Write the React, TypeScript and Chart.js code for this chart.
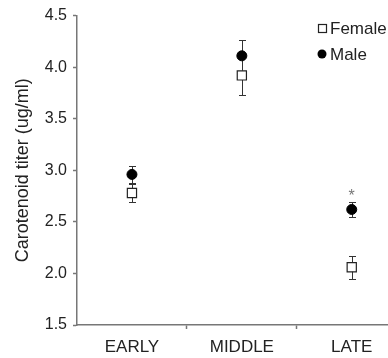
import React, { useEffect, useRef } from 'react';
import { Chart, registerables } from 'chart.js';

Chart.register(...registerables);

const categories = ['EARLY', 'MIDDLE', 'LATE'];
const femaleMean = [2.78, 3.92, 2.06];
const femaleErr = [0.09, 0.19, 0.11];
const maleMean = [2.96, 4.11, 2.62];
const maleErr = [0.08, 0.15, 0.075];
const maleSig = ['', '', '*'];
const yTicks = [1.5, 2.0, 2.5, 3.0, 3.5, 4.0, 4.5];
const seriesNames = ['Female', 'Male'];
const yTitle = 'Carotenoid titer (ug/ml)';

const FONT = "'Liberation Sans', Arial, Helvetica, sans-serif";
const AXIS = '#777';
const INK = '#222';

const errorBarPlugin = {
  id: 'errorBars',
  beforeDatasetsDraw(chart: any) {
    const { ctx } = chart;
    const x = chart.scales.x;
    const y = chart.scales.y;
    ctx.save();
    ctx.strokeStyle = '#333';
    ctx.lineWidth = 1;
    const groups: [number[], number[]][] = [
      [femaleMean, femaleErr],
      [maleMean, maleErr],
    ];
    groups.forEach(([m, e]) => {
      m.forEach((v, i) => {
        const px = Math.round(x.getPixelForValue(i)) + 0.5;
        const top = Math.round(y.getPixelForValue(v + e[i])) + 0.5;
        const bot = Math.round(y.getPixelForValue(v - e[i])) + 0.5;
        ctx.beginPath();
        ctx.moveTo(px, top);
        ctx.lineTo(px, bot);
        ctx.moveTo(px - 3.5, top);
        ctx.lineTo(px + 3.5, top);
        ctx.moveTo(px - 3.5, bot);
        ctx.lineTo(px + 3.5, bot);
        ctx.stroke();
      });
    });
    ctx.fillStyle = '#777';
    ctx.font = `16px ${FONT}`;
    ctx.textAlign = 'center';
    ctx.textBaseline = 'middle';
    maleSig.forEach((s, i) => {
      if (!s) return;
      const px = x.getPixelForValue(i);
      const top = y.getPixelForValue(maleMean[i] + maleErr[i]);
      ctx.fillText(s, px, top - 5);
    });
    ctx.restore();
  },
};

const legendPlugin = {
  id: 'customLegend',
  afterDraw(chart: any) {
    const { ctx } = chart;
    ctx.save();
    ctx.font = `17px ${FONT}`;
    ctx.fillStyle = INK;
    ctx.textAlign = 'left';
    ctx.textBaseline = 'middle';
    const rows = [28, 54];
    seriesNames.forEach((name, i) => {
      const cy = rows[i];
      if (i === 0) {
        ctx.fillStyle = '#fff';
        ctx.fillRect(318, cy - 4, 8, 8);
        ctx.strokeStyle = INK;
        ctx.lineWidth = 1.2;
        ctx.strokeRect(318.5, cy - 3.5, 8, 8);
      } else {
        ctx.fillStyle = '#000';
        ctx.beginPath();
        ctx.arc(322, cy, 4.5, 0, Math.PI * 2);
        ctx.fill();
      }
      ctx.fillStyle = INK;
      ctx.fillText(name, 330, cy + 1);
    });
    ctx.restore();
  },
};

export default function App() {
  const ref = useRef<HTMLCanvasElement>(null);

  useEffect(() => {
    if (!ref.current) return;
    Chart.defaults.font.family = FONT;
    const chart = new Chart(ref.current, {
      type: 'scatter',
      data: {
        datasets: [
          {
            label: seriesNames[0],
            data: categories.map((_, i) => ({ x: i, y: femaleMean[i] })),
            pointStyle: 'rect',
            pointRadius: 6.5,
            backgroundColor: '#fff',
            borderColor: INK,
            borderWidth: 1.2,
          },
          {
            label: seriesNames[1],
            data: categories.map((_, i) => ({ x: i, y: maleMean[i] })),
            pointStyle: 'circle',
            pointRadius: 5,
            backgroundColor: '#000',
            borderColor: '#000',
            borderWidth: 1,
          },
        ],
      },
      options: {
        animation: false,
        responsive: false,
        layout: { autoPadding: false, padding: { top: 15, right: 0, left: 0, bottom: 0 } },
        plugins: { legend: { display: false }, tooltip: { enabled: false } },
        scales: {
          x: {
            type: 'linear',
            min: -0.5,
            max: 2.33,
            afterBuildTicks: (s: any) => {
              s.ticks = [0, 0.5, 1, 1.5, 2].map((v) => ({ value: v }));
            },
            afterFit: (s: any) => {
              s.height = 33;
              s.paddingRight = 0;
              s.paddingLeft = 0;
            },
            ticks: {
              autoSkip: false,
              maxRotation: 0,
              padding: 8,
              color: INK,
              font: { size: 17, family: FONT },
              callback: (v: any) => (Number.isInteger(v) ? categories[v] : ''),
            },
            grid: {
              drawOnChartArea: false,
              tickLength: 4,
              tickWidth: 1.5,
              tickColor: (c: any) =>
                c.tick && Number.isInteger(c.tick.value) ? 'rgba(0,0,0,0)' : AXIS,
            },
            border: { color: AXIS, width: 1.5 },
          },
          y: {
            type: 'linear',
            min: 1.5,
            max: 4.5,
            afterBuildTicks: (s: any) => {
              s.ticks = yTicks.map((v) => ({ value: v }));
            },
            afterFit: (s: any) => {
              s.width = 77;
            },
            ticks: {
              padding: 6,
              color: INK,
              font: { size: 16, family: FONT },
              callback: (v: any) => Number(v).toFixed(1),
            },
            grid: { drawOnChartArea: false, tickLength: 4, tickWidth: 1.5, tickColor: AXIS },
            border: { color: AXIS, width: 1.5 },
            title: {
              display: true,
              text: yTitle,
              color: INK,
              font: { size: 18, family: FONT },
              padding: { top: 12, bottom: 0 },
            },
          },
        },
      },
      plugins: [errorBarPlugin, legendPlugin],
    });
    return () => chart.destroy();
  }, []);

  return (
    <div style={{ position: 'absolute', left: 0, top: 0, width: 388, height: 358, background: '#fff' }}>
      <canvas ref={ref} width={388} height={358} style={{ display: 'block' }} />
    </div>
  );
}
